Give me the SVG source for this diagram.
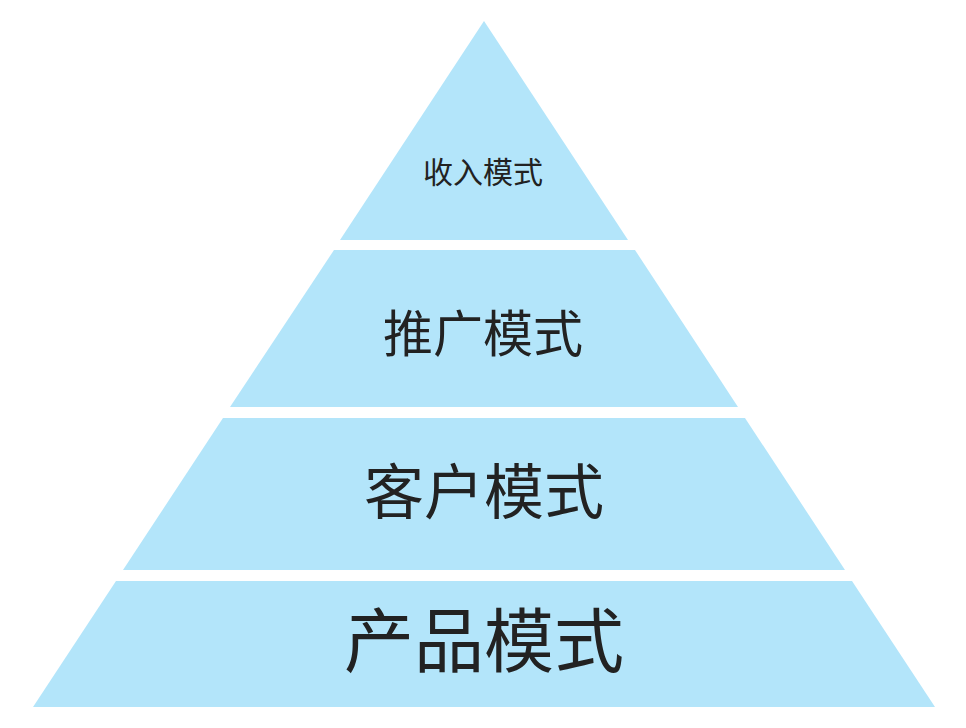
<svg xmlns="http://www.w3.org/2000/svg" width="966" height="728" viewBox="0 0 966 728">
<style>
.tier{fill:#b3e5fa;stroke:none}
.lbl{font-family:"Noto Sans CJK SC","Noto Sans",sans-serif;fill:#222222;text-anchor:middle}
</style>
<rect width="966" height="728" fill="#ffffff"/>
<g id="tier1">
<polygon class="tier" points="484,21 628,240 340,240"/>
<text class="lbl" x="483" y="183" font-size="30">收入模式</text>
</g>
<g id="tier2">
<polygon class="tier" points="334,250 635,250 738,407 230,407"/>
<text class="lbl" x="483" y="352" font-size="50">推广模式</text>
</g>
<g id="tier3">
<polygon class="tier" points="223,418 745,418 845,570 123,570"/>
<text class="lbl" x="484" y="514" font-size="60">客户模式</text>
</g>
<g id="tier4">
<polygon class="tier" points="116,581 852,581 935,707 33,707"/>
<text class="lbl" x="484" y="667" font-size="70">产品模式</text>
</g>
<g id="connectors"/>
</svg>
